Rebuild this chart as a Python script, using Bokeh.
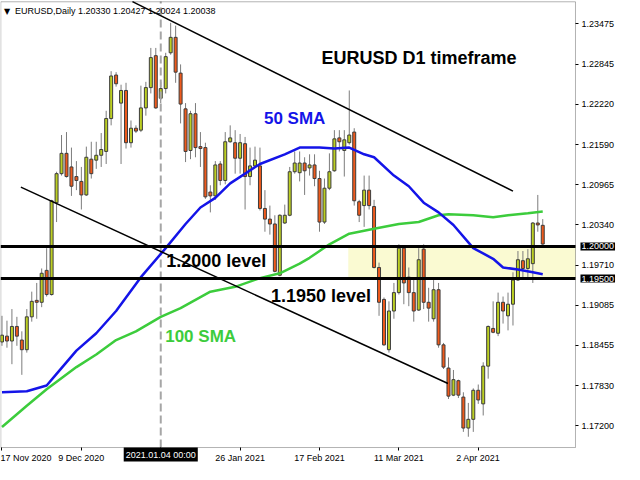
from bokeh.plotting import figure
from bokeh.models import Range1d, FixedTicker, BoxAnnotation, Label, PrintfTickFormatter, ColumnDataSource
from bokeh.embed import file_html
from bokeh.resources import INLINE

# ---- daily EURUSD candles (bar index 0 = 17 Nov 2020) ----
opens = [1.18510,1.18601,1.18525,1.18752,1.18540,1.18389,1.18902,1.19159,1.19129,1.19627,
         1.19250,1.20683,1.21136,1.21453,1.21241,1.21091,1.21015,1.20804,1.21362,1.21347,
         1.21423,1.21483,1.21996,1.22675,1.22237,1.22434,1.21619,1.21845,1.21815,1.22162,
         1.22479,1.22977,1.22313,1.22464,1.23022,1.23263,1.22705,1.22147,1.21498,1.22071,
         1.21558,1.21543,1.20849,1.20789,1.21287,1.21030,1.21634,1.21619,1.21377,1.21604,
         1.21091,1.21257,1.21257,1.20593,1.20427,1.20351,1.19551,1.20366,1.20487,1.21166,
         1.21151,1.21302,1.21226,1.21272,1.21060,1.20381,1.20909,1.21181,1.21694,1.21498,
         1.21619,1.21785,1.20698,1.20638,1.20879,1.20623,1.19672,1.19174,1.18389,1.18993,
         1.19280,1.19974,1.19521,1.19280,1.19008,1.19959,1.19129,1.18872,1.19325,1.18465,
         1.18103,1.17680,1.17906,1.17650,1.17167,1.17303,1.17756,1.17544,1.18133,1.18721,
         1.18646,1.19129,1.18918,1.19099,1.19476,1.19778,1.19657,1.19732,1.20366,1.20330]
highs = [1.18918,1.18842,1.19023,1.18902,1.18676,1.19023,1.19295,1.19431,1.19657,1.19974,
         1.20728,1.21166,1.21739,1.21785,1.21543,1.21332,1.21241,1.21558,1.21634,1.21634,
         1.21770,1.22117,1.22735,1.22720,1.22524,1.22554,1.21966,1.21890,1.22509,1.22569,
         1.23098,1.23098,1.22569,1.23022,1.23490,1.23445,1.22841,1.22237,1.22117,1.22237,
         1.21785,1.21619,1.20955,1.21332,1.21332,1.21785,1.21890,1.21815,1.21755,1.21709,
         1.21543,1.21558,1.21543,1.20879,1.20638,1.20487,1.20502,1.20653,1.21241,1.21483,
         1.21483,1.21392,1.21438,1.21438,1.21181,1.21060,1.21453,1.21815,1.21815,1.21815,
         1.22434,1.21845,1.20728,1.21106,1.21106,1.20728,1.19748,1.19204,1.19144,1.19431,
         1.20034,1.20004,1.19672,1.19521,1.19974,1.20034,1.19355,1.19476,1.19431,1.18495,
         1.18269,1.18073,1.17922,1.17725,1.17559,1.17786,1.17846,1.18193,1.18767,1.19144,
         1.19280,1.19219,1.19280,1.19597,1.19929,1.19929,1.19959,1.20381,1.20804,1.20427]
lows = [1.18450,1.18420,1.18163,1.18450,1.17997,1.18344,1.18827,1.18872,1.19053,1.19219,
        1.19234,1.20381,1.21106,1.21075,1.20789,1.20879,1.20577,1.20789,1.21060,1.21211,
        1.21241,1.21287,1.21890,1.22494,1.21287,1.21528,1.21543,1.21770,1.21785,1.22041,
        1.22388,1.22147,1.22237,1.22388,1.22992,1.22554,1.21920,1.21317,1.21362,1.21392,
        1.21241,1.20743,1.20532,1.20728,1.20955,1.20970,1.21619,1.21136,1.21136,1.20577,
        1.20955,1.21241,1.20562,1.20230,1.20185,1.19597,1.19536,1.20351,1.20472,1.21136,
        1.21015,1.20804,1.21106,1.20940,1.20230,1.20351,1.20879,1.21166,1.21483,1.21091,
        1.21589,1.20638,1.20381,1.20306,1.20577,1.19657,1.18918,1.18450,1.18344,1.18872,
        1.19250,1.19099,1.19068,1.18827,1.18993,1.19023,1.18827,1.18827,1.18420,1.18088,
        1.17620,1.17665,1.17635,1.17107,1.17031,1.17107,1.17544,1.17363,1.17937,1.18646,
        1.18601,1.18797,1.18691,1.18767,1.19461,1.19506,1.19521,1.19431,1.20230,1.20024]
closes = [1.18616,1.18525,1.18752,1.18601,1.18389,1.18902,1.19144,1.19129,1.19582,1.19250,
          1.20713,1.21136,1.21453,1.21091,1.20940,1.21030,1.20804,1.21392,1.21136,1.21423,
          1.21513,1.21996,1.22660,1.22539,1.22434,1.21619,1.21845,1.21800,1.22162,1.22479,
          1.22947,1.22162,1.22464,1.22962,1.23263,1.22720,1.22222,1.21483,1.22071,1.21543,
          1.21528,1.20774,1.20789,1.21272,1.21030,1.21634,1.21694,1.21377,1.21619,1.21091,
          1.21257,1.21347,1.20593,1.20427,1.20351,1.19612,1.20487,1.20487,1.21166,1.21302,
          1.21302,1.21181,1.21272,1.21060,1.20381,1.20909,1.21166,1.21679,1.21634,1.21664,
          1.21739,1.20713,1.20487,1.20879,1.20638,1.19672,1.19129,1.18465,1.18993,1.19280,
          1.19974,1.19431,1.19280,1.18993,1.19793,1.19129,1.19038,1.19325,1.18465,1.18118,
          1.17665,1.17922,1.17680,1.17167,1.17303,1.17756,1.17605,1.18133,1.18752,1.18661,
          1.19129,1.18993,1.19099,1.19476,1.19793,1.19657,1.19808,1.20366,1.20336,1.20038]

# ---- moving averages (bar index, price) ----
sma50_bar = [0,5,9,11,15,19,23,28,33,37,40,43,46,52,57,60,64,67,70,73,75,79,82,85,88,91,95,99,101,104,107,109]
sma50_val = [1.17725,1.17741,1.17831,1.18012,1.18374,1.18646,1.18993,1.19521,1.19974,1.20351,
             1.20608,1.20759,1.20985,1.21287,1.21438,1.21543,1.21543,1.21528,1.21543,1.21438,
             1.21392,1.21106,1.20940,1.20683,1.20532,1.20336,1.19974,1.19808,1.19672,1.19642,
             1.19597,1.19566]
sma100_bar = [0,5,9,15,19,23,27,32,36,42,47,52,56,60,62,66,70,75,80,84,88,90,95,99,102,106,109]
sma100_val = [1.17182,1.17514,1.17771,1.18118,1.18314,1.18540,1.18676,1.18902,1.19038,1.19295,
              1.19370,1.19506,1.19582,1.19732,1.19823,1.20034,1.20200,1.20276,1.20351,1.20381,
              1.20487,1.20502,1.20487,1.20457,1.20487,1.20517,1.20547]

# ---- drawn trend lines (bar index, price) ----
upper_trend_bar = [26.3, 103.0]
upper_trend_val = [1.23820, 1.20864]
lower_trend_bar = [3.8, 89.9]
lower_trend_val = [1.20925, 1.17861]

levels = [1.20000, 1.19500]
zone_start_bar = 69.8
cursor_bar = 32
cursor_text = "2021.01.04 00:00"

date_ticks = [0, 16, 32, 48, 64, 80, 96]
date_labels = ["17 Nov 2020", "9 Dec 2020", "4 Jan 2021", "26 Jan 2021", "17 Feb 2021", "11 Mar 2021", "2 Apr 2021"]
price_ticks = [1.23475, 1.22845, 1.22220, 1.21590, 1.20965, 1.20340, 1.19710, 1.19085, 1.18455, 1.17830, 1.17200]
header_text = "EURUSD,Daily  1.20330 1.20427 1.20024 1.20038"

# chart window (bars / prices shown inside the framed area)
X0, X1 = -0.1, 115.6
Y0, Y1 = 1.16863, 1.23822

BULL = "#bccf22"
BEAR = "#ef5a1c"

idx = list(range(len(opens)))
src = ColumnDataSource(dict(
    x=idx, o=opens, h=highs, l=lows, c=closes,
    top=[max(a, b) for a, b in zip(opens, closes)],
    bot=[min(a, b) for a, b in zip(opens, closes)],
    col=[BULL if c >= o else BEAR for o, c in zip(opens, closes)],
))

p = figure(width=624, height=464, output_backend="svg", toolbar_location=None,
           x_range=Range1d(-0.302, 125.48), y_range=Range1d(1.16598, 1.23838),
           y_axis_location="right",
           min_border_left=0, min_border_top=0, min_border_right=0, min_border_bottom=0,
           background_fill_color="white", border_fill_color="white",
           outline_line_color=None)
p.xgrid.visible = False
p.ygrid.visible = False

# yellow zone between the two levels
p.add_layout(BoxAnnotation(left=zone_start_bar, right=X1, bottom=levels[1], top=levels[0],
                           fill_color="#fafad2", fill_alpha=1.0, line_alpha=0, level="underlay"))

# candles
p.segment(x0="x", y0="h", x1="x", y1="l", source=src, line_color="#7c7c7c", line_width=1)
p.vbar(x="x", width=0.6, top="top", bottom="bot", source=src,
       fill_color="col", line_color="#3c3c3c", line_width=1)

# cursor line
p.segment(x0=[cursor_bar], y0=[Y0], x1=[cursor_bar], y1=[Y1], line_color="#a6a6a6",
          line_width=2, line_dash="8 4")

# moving averages
p.line(sma100_bar, sma100_val, line_color="#3ccc3c", line_width=2.5)
p.line(sma50_bar, sma50_val, line_color="#1414e8", line_width=2.5)

# trend lines
p.line(upper_trend_bar, upper_trend_val, line_color="black", line_width=1.5)
p.line(lower_trend_bar, lower_trend_val, line_color="black", line_width=1.5)

# level lines
p.segment(x0=[X0 - 0.2] * len(levels), y0=levels, x1=[X1] * len(levels), y1=levels,
          line_color="black", line_width=3)

# frame of the chart window
p.add_layout(BoxAnnotation(left=X0 - 0.15, right=X1, bottom=Y0, top=Y1 - 0.00004,
                           fill_alpha=0, line_color="black", line_width=1))

# axes drawn at the edges of the chart window
p.yaxis.fixed_location = X1
p.xaxis.fixed_location = Y0
p.yaxis.ticker = FixedTicker(ticks=price_ticks)
p.yaxis.formatter = PrintfTickFormatter(format="%.5f")
p.xaxis.ticker = FixedTicker(ticks=date_ticks)
p.xaxis.major_label_overrides = {t: s for t, s in zip(date_ticks, date_labels)}
for ax in (p.xaxis[0], p.yaxis[0]):
    ax.major_label_text_font = "Liberation Sans"
    ax.major_label_text_font_size = "9px"
    ax.major_label_text_color = "black"
    ax.axis_line_color = None
    ax.major_tick_line_color = "black"
    ax.major_tick_in = 0
    ax.major_tick_out = 3
    ax.minor_tick_line_color = None
p.xaxis.major_label_text_align = "left"
p.xaxis.major_label_standoff = 2
p.yaxis.major_label_standoff = 3

def add_text(x, y, text, size, color="black", bold=True, font="Liberation Sans"):
    p.add_layout(Label(x=x, y=y, text=text, text_font=font, text_font_size=size,
                       text_font_style="bold" if bold else "normal", text_color=color,
                       text_baseline="alphabetic", text_align="left"))

add_text(64.4, 1.22947, "EURUSD D1 timeframe", "18px")
add_text(52.8, 1.21996, "50 SMA", "17px", color="#1414e8")
add_text(32.9, 1.18601, "100 SMA", "17px", color="#3ccc3c")
add_text(33.1, 1.19778, "1.2000 level", "18px")
add_text(54.2, 1.19220, "1.1950 level", "18px")
add_text(0.4, 1.23671, "\u25bc", "8px", bold=False, font="DejaVu Sans")
add_text(2.6, 1.23671, header_text, "9px", bold=False)

# highlighted price labels on the price scale
for lv in levels:
    p.add_layout(Label(x=X1, y=lv, x_offset=5, text="%.5f" % lv, text_font="Liberation Sans",
                       text_font_size="9px", text_color="white", text_baseline="middle",
                       text_align="left", background_fill_color="black", background_fill_alpha=1.0,
                       padding=1))
# cursor date box on the time scale
p.add_layout(Label(x=cursor_bar, y=Y0, y_offset=-7, text=cursor_text,
                   text_font="Liberation Sans", text_font_size="9px", text_color="white",
                   text_baseline="middle", text_align="center",
                   background_fill_color="black", background_fill_alpha=1.0, padding=2))

open("out.html", "w").write(file_html(p, INLINE))
